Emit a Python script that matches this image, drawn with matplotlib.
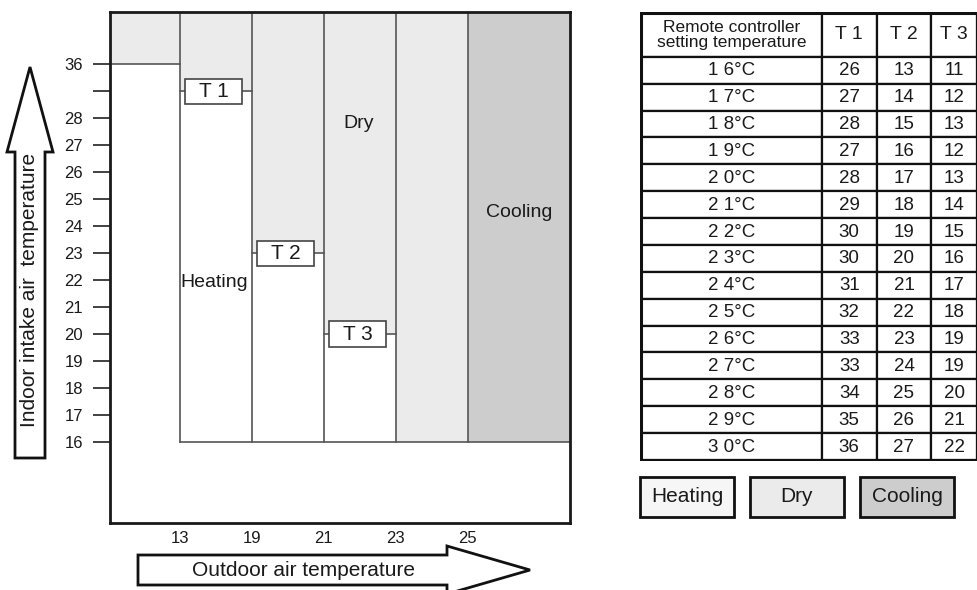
# -*- coding: utf-8 -*-
"""
Diagrama de faixas de operação (Heating / Dry / Cooling) com tabela T1/T2/T3.
"""

import matplotlib
matplotlib.use('Agg')
import matplotlib.pyplot as plt
from matplotlib.patches import Rectangle, FancyArrow

plt.rcParams['font.family'] = ['Liberation Sans', 'DejaVu Sans']

# --- Dados do gráfico ---
outdoor_temps = ['13', '19', '21', '23', '25']
indoor_labels = ['16', '17', '18', '19', '20', '21', '22', '23', '24', '25',
                 '26', '27', '28', '', '36']
mode_names = ['Heating', 'Dry', 'Cooling']
mode_colors = ['#f6f6f6', '#ebebeb', '#cdcdcd']

# limite superior da área branca (Heating) em cada coluna, como índice da escala interna
heating_top = [14, 13, 7, 4, 0, 0]
t_names = ['T 1', 'T 2', 'T 3']
t_level = [13, 7, 4]          # índice da escala: marca sem rótulo, 23, 20
t_column = [0, 1, 2]

# --- Dados da tabela ---
setting_temps = ['1 6°C', '1 7°C', '1 8°C', '1 9°C', '2 0°C', '2 1°C', '2 2°C', '2 3°C',
                 '2 4°C', '2 5°C', '2 6°C', '2 7°C', '2 8°C', '2 9°C', '3 0°C']
t1_vals = [26, 27, 28, 27, 28, 29, 30, 30, 31, 32, 33, 33, 34, 35, 36]
t2_vals = [13, 14, 15, 16, 17, 18, 19, 20, 21, 22, 23, 24, 25, 26, 27]
t3_vals = [11, 12, 13, 12, 13, 14, 15, 16, 17, 18, 19, 19, 20, 21, 22]

W, H = 978, 590
TXT = '#1a1a1a'
LINE = '#555555'


def fig_box(x0, y0, x1, y1):
    """Converte um retângulo em pixels (origem no topo) para fração da figura."""
    return [x0 / W, 1 - y1 / H, (x1 - x0) / W, (y1 - y0) / H]


fig = plt.figure(figsize=(W / 100, H / 100), dpi=100)

# camada de fundo em pixels para as setas e a legenda
ax_o = fig.add_axes([0, 0, 1, 1])
ax_o.set_xlim(0, W)
ax_o.set_ylim(H, 0)
ax_o.axis('off')

# --- Gráfico principal ---
ax = fig.add_axes(fig_box(110, 12, 570, 523))
x_left, x_right = -0.97, 5.42
y_bottom, y_top = -3.0, 15.93
ax.set_xlim(x_left, x_right)
ax.set_ylim(y_bottom, y_top)

col_edges = [x_left, 0, 1, 2, 3, 4, x_right]
for i in range(len(col_edges) - 1):
    cor = mode_colors[2] if i == len(col_edges) - 2 else mode_colors[1]
    x0, x1 = col_edges[i], col_edges[i + 1]
    ax.fill_between([x0, x1], heating_top[i], y_top, color=cor, lw=0, zorder=1)

# linhas de divisão das colunas
for i in range(len(outdoor_temps)):
    ax.plot([i, i], [0, y_top], color=LINE, lw=1.2, zorder=2)
ax.plot([0, x_right], [0, 0], color=LINE, lw=1.2, zorder=2)
ax.plot([x_left, 0], [14, 14], color=LINE, lw=1.2, zorder=2)

# caixas T1, T2, T3
bw, bh = 0.79, 0.93
for nome, nivel, col in zip(t_names, t_level, t_column):
    cx = col + 0.47
    ax.plot([col, cx - bw / 2], [nivel, nivel], color=LINE, lw=1.2, zorder=3)
    ax.plot([cx + bw / 2, col + 1], [nivel, nivel], color=LINE, lw=1.2, zorder=3)
    ax.add_patch(Rectangle((cx - bw / 2, nivel - bh / 2), bw, bh, facecolor='white',
                           edgecolor='#444444', lw=1.2, zorder=4))
    ax.text(cx, nivel, nome, ha='center', va='center', fontsize=15, color=TXT, zorder=5)

ax.text(0.48, 5.9, mode_names[0], ha='center', va='center', fontsize=14, color=TXT)
ax.text(2.48, 11.8, mode_names[1], ha='center', va='center', fontsize=14, color=TXT)
ax.text(4.71, 8.5, mode_names[2], ha='center', va='center', fontsize=14, color=TXT)

ax.set_yticks(range(len(indoor_labels)))
ax.set_yticklabels(indoor_labels)
ax.set_xticks(range(len(outdoor_temps)))
ax.set_xticklabels(outdoor_temps)
ax.tick_params(axis='y', length=12.5, width=1.3, color='#333333', pad=7,
               labelsize=12, labelcolor=TXT)
ax.tick_params(axis='x', length=0, pad=6, labelsize=12, labelcolor=TXT)
for s in ax.spines.values():
    s.set_linewidth(2)
    s.set_color('#1a1a1a')

# --- Setas dos eixos ---
ax_o.add_patch(FancyArrow(30, 458, 0, -391, width=30, head_width=46, head_length=85,
                          length_includes_head=True, facecolor='white',
                          edgecolor='#111111', lw=2))
ax_o.text(30, 290, 'Indoor intake air  temperature', rotation=90, ha='center',
          va='center', fontsize=15, color=TXT)
ax_o.add_patch(FancyArrow(138, 570, 392, 0, width=30, head_width=48, head_length=83,
                          length_includes_head=True, facecolor='white',
                          edgecolor='#111111', lw=2))
ax_o.text(304, 570, 'Outdoor air temperature', ha='center', va='center',
          fontsize=15, color=TXT)

# --- Tabela ---
ax_t = fig.add_axes(fig_box(640, 12, 978, 461))
col_w = [182, 55, 55, 46]
head_h, row_h = 44, 27
total_w = sum(col_w)
total_h = head_h + row_h * len(setting_temps)
ax_t.set_xlim(-1, total_w + 1)
ax_t.set_ylim(total_h + 1, -1)
ax_t.axis('off')

col_x = [sum(col_w[:i]) for i in range(len(col_w))]
header = ['Remote controller\nsetting temperature'] + t_names
for j, texto in enumerate(header):
    ax_t.add_patch(Rectangle((col_x[j], 0), col_w[j], head_h, facecolor='white',
                             edgecolor='#111111', lw=1.6))
    ax_t.text(col_x[j] + col_w[j] / 2, head_h / 2, texto, ha='center', va='center',
              fontsize=12.5 if j == 0 else 14, color=TXT, linespacing=0.95)

linhas = list(zip(setting_temps, t1_vals, t2_vals, t3_vals))
for i, linha in enumerate(linhas):
    y0 = head_h + i * row_h
    for j, valor in enumerate(linha):
        ax_t.add_patch(Rectangle((col_x[j], y0), col_w[j], row_h, facecolor='white',
                                 edgecolor='#111111', lw=1.6))
        ax_t.text(col_x[j] + col_w[j] / 2, y0 + row_h / 2 + 0.5, str(valor),
                  ha='center', va='center', fontsize=13.5, color=TXT)
ax_t.add_patch(Rectangle((0, 0), total_w, total_h, fill=False, edgecolor='#111111', lw=2.2))

# --- Legenda ---
leg_x = [640, 750, 860]
for x0, nome, cor in zip(leg_x, mode_names, mode_colors):
    ax_o.add_patch(Rectangle((x0, 477), 94, 40, facecolor=cor, edgecolor='#111111', lw=2))
    ax_o.text(x0 + 47, 497, nome, ha='center', va='center', fontsize=15, color=TXT)

fig.savefig('out.png', dpi=100)
